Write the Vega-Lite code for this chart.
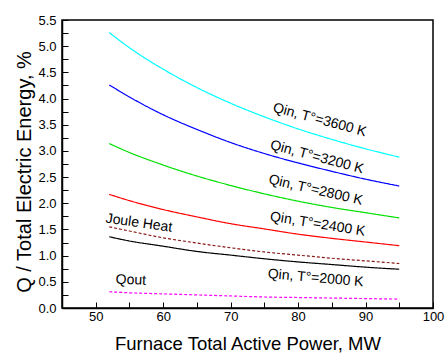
{
  "$schema": "https://vega.github.io/schema/vega-lite/v6.json",
  "width": 371,
  "height": 288,
  "autosize": {"type": "none"},
  "padding": {"left": 62, "top": 20, "right": 12, "bottom": 46},
  "background": "white",
  "config": {
    "view": {"stroke": "#000", "strokeWidth": 1.5},
    "font": "Liberation Sans",
    "text": {"font": "Liberation Sans"},
    "axis": {"labelOverlap": false, "labelFlush": false, "labelBound": false}
  },
  "datasets": {
    "curves": [
      {"series": "Qin 3600", "x": 52, "y": 5.26}, {"series": "Qin 3600", "x": 55, "y": 4.97}, {"series": "Qin 3600", "x": 60, "y": 4.56}, {"series": "Qin 3600", "x": 65, "y": 4.21}, {"series": "Qin 3600", "x": 70, "y": 3.91}, {"series": "Qin 3600", "x": 75, "y": 3.65}, {"series": "Qin 3600", "x": 80, "y": 3.42}, {"series": "Qin 3600", "x": 85, "y": 3.22}, {"series": "Qin 3600", "x": 90, "y": 3.04}, {"series": "Qin 3600", "x": 95, "y": 2.88},
      {"series": "Qin 3200", "x": 52, "y": 4.26}, {"series": "Qin 3200", "x": 55, "y": 4.03}, {"series": "Qin 3200", "x": 60, "y": 3.69}, {"series": "Qin 3200", "x": 65, "y": 3.41}, {"series": "Qin 3200", "x": 70, "y": 3.16}, {"series": "Qin 3200", "x": 75, "y": 2.95}, {"series": "Qin 3200", "x": 80, "y": 2.77}, {"series": "Qin 3200", "x": 85, "y": 2.61}, {"series": "Qin 3200", "x": 90, "y": 2.46}, {"series": "Qin 3200", "x": 95, "y": 2.33},
      {"series": "Qin 2800", "x": 52, "y": 3.14}, {"series": "Qin 2800", "x": 55, "y": 2.97}, {"series": "Qin 2800", "x": 60, "y": 2.73}, {"series": "Qin 2800", "x": 65, "y": 2.52}, {"series": "Qin 2800", "x": 70, "y": 2.34}, {"series": "Qin 2800", "x": 75, "y": 2.18}, {"series": "Qin 2800", "x": 80, "y": 2.04}, {"series": "Qin 2800", "x": 85, "y": 1.92}, {"series": "Qin 2800", "x": 90, "y": 1.82}, {"series": "Qin 2800", "x": 95, "y": 1.72},
      {"series": "Qin 2400", "x": 52, "y": 2.17}, {"series": "Qin 2400", "x": 55, "y": 2.05}, {"series": "Qin 2400", "x": 60, "y": 1.88}, {"series": "Qin 2400", "x": 65, "y": 1.74}, {"series": "Qin 2400", "x": 70, "y": 1.61}, {"series": "Qin 2400", "x": 75, "y": 1.51}, {"series": "Qin 2400", "x": 80, "y": 1.41}, {"series": "Qin 2400", "x": 85, "y": 1.33}, {"series": "Qin 2400", "x": 90, "y": 1.26}, {"series": "Qin 2400", "x": 95, "y": 1.19},
      {"series": "Joule Heat", "x": 52, "y": 1.55}, {"series": "Joule Heat", "x": 55, "y": 1.47}, {"series": "Joule Heat", "x": 60, "y": 1.34}, {"series": "Joule Heat", "x": 65, "y": 1.24}, {"series": "Joule Heat", "x": 70, "y": 1.15}, {"series": "Joule Heat", "x": 75, "y": 1.07}, {"series": "Joule Heat", "x": 80, "y": 1.01}, {"series": "Joule Heat", "x": 85, "y": 0.95}, {"series": "Joule Heat", "x": 90, "y": 0.90}, {"series": "Joule Heat", "x": 95, "y": 0.85},
      {"series": "Qin 2000", "x": 52, "y": 1.36}, {"series": "Qin 2000", "x": 55, "y": 1.28}, {"series": "Qin 2000", "x": 60, "y": 1.18}, {"series": "Qin 2000", "x": 65, "y": 1.08}, {"series": "Qin 2000", "x": 70, "y": 1.01}, {"series": "Qin 2000", "x": 75, "y": 0.94}, {"series": "Qin 2000", "x": 80, "y": 0.88}, {"series": "Qin 2000", "x": 85, "y": 0.83}, {"series": "Qin 2000", "x": 90, "y": 0.78}, {"series": "Qin 2000", "x": 95, "y": 0.74},
      {"series": "Qout", "x": 52, "y": 0.31}, {"series": "Qout", "x": 55, "y": 0.29}, {"series": "Qout", "x": 60, "y": 0.27}, {"series": "Qout", "x": 65, "y": 0.25}, {"series": "Qout", "x": 70, "y": 0.23}, {"series": "Qout", "x": 75, "y": 0.21}, {"series": "Qout", "x": 80, "y": 0.20}, {"series": "Qout", "x": 85, "y": 0.19}, {"series": "Qout", "x": 90, "y": 0.18}, {"series": "Qout", "x": 95, "y": 0.17}
    ],
    "labels": [
      {"label": "Qin, T°=3600 K", "x": 83.2, "y": 3.59},
      {"label": "Qin, T°=3200 K", "x": 82.8, "y": 2.88},
      {"label": "Qin, T°=2800 K", "x": 82.6, "y": 2.25},
      {"label": "Qin, T°=2400 K", "x": 82.9, "y": 1.6},
      {"label": "Qin, T°=2000 K", "x": 82.6, "y": 0.57},
      {"label": "Joule Heat", "x": 56.4, "y": 1.62},
      {"label": "Qout", "x": 55.2, "y": 0.53}
    ]
  },
  "encoding": {
    "x": {
      "field": "x", "type": "quantitative",
      "scale": {"domain": [45, 100], "nice": false, "zero": false},
      "axis": {
        "values": [45, 50, 55, 60, 65, 70, 75, 80, 85, 90, 95, 100],
        "tickSize": -6,
        "labelExpr": "datum.value % 10 == 0 ? datum.label : ''",
        "labelOverlap": false,
        "labelFlush": false,
        "labelFontSize": 13,
        "labelColor": "#000",
        "labelPadding": 8,
        "grid": false,
        "domainColor": "#000",
        "domainWidth": 1.5,
        "tickColor": "#000",
        "tickWidth": 1,
        "title": "Furnace Total Active Power, MW",
        "titleFontSize": 18.5,
        "titleFontWeight": "normal",
        "titleColor": "#000",
        "titleY": 41,
        "titleBaseline": "alphabetic",
        "encode": {"ticks": {"update": {"y2": {"signal": "datum.value % 10 == 0 ? -6 : -3"}}}}
      }
    },
    "y": {
      "field": "y", "type": "quantitative",
      "scale": {"domain": [0, 5.5], "nice": false},
      "axis": {
        "values": [0, 0.25, 0.5, 0.75, 1, 1.25, 1.5, 1.75, 2, 2.25, 2.5, 2.75, 3, 3.25, 3.5, 3.75, 4, 4.25, 4.5, 4.75, 5, 5.25, 5.5],
        "tickSize": -6,
        "labelExpr": "(datum.value * 2) % 1 == 0 ? format(datum.value, '.1f') : ''",
        "labelOverlap": false,
        "labelFlush": false,
        "labelFontSize": 13,
        "labelColor": "#000",
        "labelPadding": 12,
        "grid": false,
        "domainColor": "#000",
        "domainWidth": 1.5,
        "tickColor": "#000",
        "tickWidth": 1,
        "title": "Q / Total Electric Energy, %",
        "titleFontSize": 20,
        "titleFontWeight": "normal",
        "titleColor": "#000",
        "titleX": -31.5,
        "titleY": 151.5,
        "titleBaseline": "alphabetic",
        "encode": {"ticks": {"update": {"x2": {"signal": "(datum.value * 2) % 1 == 0 ? 6 : 3"}}}}
      }
    }
  },
  "layer": [
    {
      "data": {"name": "curves"},
      "mark": {"type": "line", "strokeWidth": 1.2, "interpolate": "monotone"},
      "encoding": {
        "color": {
          "field": "series", "type": "nominal", "legend": null,
          "scale": {
            "domain": ["Qin 3600", "Qin 3200", "Qin 2800", "Qin 2400", "Joule Heat", "Qin 2000", "Qout"],
            "range": ["#00FFFF", "#0000FF", "#00E000", "#FF0000", "#8B1A1A", "#000000", "#FF00FF"]
          }
        },
        "strokeDash": {
          "field": "series", "type": "nominal", "legend": null,
          "scale": {
            "domain": ["Qin 3600", "Qin 3200", "Qin 2800", "Qin 2400", "Joule Heat", "Qin 2000", "Qout"],
            "range": [[1, 0], [1, 0], [1, 0], [1, 0], [3, 2], [1, 0], [3, 2]]
          }
        }
      }
    },
    {"data": {"name": "labels"}, "transform": [{"filter": "datum.label == 'Qin, T°=3600 K'"}], "mark": {"type": "text", "angle": 15, "fontSize": 14, "color": "#000"}, "encoding": {"text": {"field": "label"}}},
    {"data": {"name": "labels"}, "transform": [{"filter": "datum.label == 'Qin, T°=3200 K'"}], "mark": {"type": "text", "angle": 15, "fontSize": 14, "color": "#000"}, "encoding": {"text": {"field": "label"}}},
    {"data": {"name": "labels"}, "transform": [{"filter": "datum.label == 'Qin, T°=2800 K'"}], "mark": {"type": "text", "angle": 13, "fontSize": 14, "color": "#000"}, "encoding": {"text": {"field": "label"}}},
    {"data": {"name": "labels"}, "transform": [{"filter": "datum.label == 'Qin, T°=2400 K'"}], "mark": {"type": "text", "angle": 9, "fontSize": 14, "color": "#000"}, "encoding": {"text": {"field": "label"}}},
    {"data": {"name": "labels"}, "transform": [{"filter": "datum.label == 'Qin, T°=2000 K'"}], "mark": {"type": "text", "angle": 5, "fontSize": 14, "color": "#000"}, "encoding": {"text": {"field": "label"}}},
    {"data": {"name": "labels"}, "transform": [{"filter": "datum.label == 'Joule Heat'"}], "mark": {"type": "text", "angle": 8, "fontSize": 14, "color": "#000"}, "encoding": {"text": {"field": "label"}}},
    {"data": {"name": "labels"}, "transform": [{"filter": "datum.label == 'Qout'"}], "mark": {"type": "text", "angle": 2, "fontSize": 14, "color": "#000"}, "encoding": {"text": {"field": "label"}}}
  ]
}
